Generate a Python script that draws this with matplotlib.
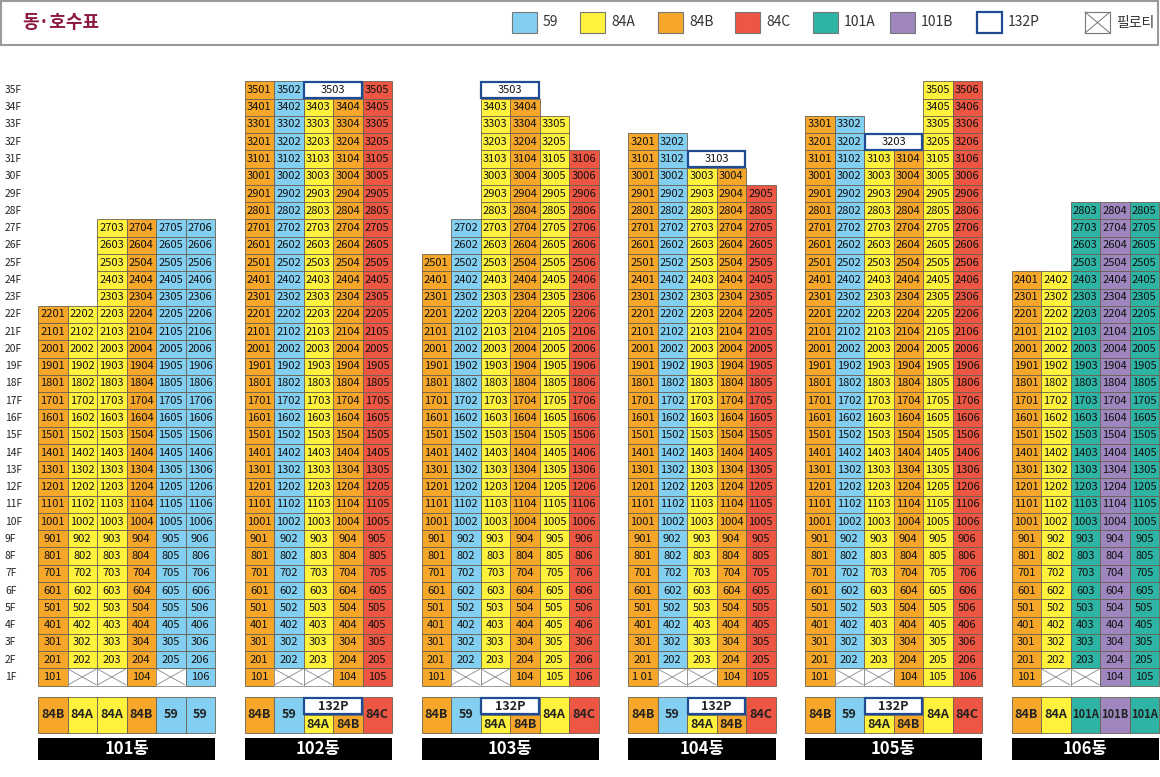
import matplotlib
matplotlib.use("Agg")
import matplotlib.pyplot as plt
from matplotlib.patches import Rectangle
import warnings
warnings.filterwarnings("ignore")

plt.rcParams['font.family'] = ['Liberation Sans Narrow', 'Noto Sans CJK KR', 'DejaVu Sans']

# ---------------- data ----------------
buildings = ['101동', '102동', '103동', '104동', '105동', '106동']
b_types = [
    ['84B', '84A', '84A', '84B', '59', '59'],
    ['84B', '59', '84A', '84B', '84C'],
    ['84B', '59', '84A', '84B', '84A', '84C'],
    ['84B', '59', '84A', '84B', '84C'],
    ['84B', '59', '84A', '84B', '84A', '84C'],
    ['84B', '84A', '101A', '101B', '101A'],
]
b_top = [
    [22, 22, 27, 27, 27, 27],
    [35, 35, 34, 34, 35],
    [25, 27, 34, 34, 33, 31],
    [32, 32, 30, 30, 29],
    [33, 33, 31, 31, 35, 35],
    [24, 24, 28, 28, 28],
]
b_piloti = [[2, 3, 5], [2, 3], [2, 3], [2, 3], [2, 3], [2, 3]]
# penthouse (132P): building index -> (floor, first column); spans 2 columns
penthouse = {1: (35, 3), 2: (35, 3), 3: (31, 3), 4: (32, 3)}
b_offset = [0, 7, 13, 20, 26, 33]
floors = list(range(1, 36))
special_labels = {(3, 1, 1): '1 01'}

legend_types = ['59', '84A', '84B', '84C', '101A', '101B', '132P', '필로티']
colors = {'59': '#82CFF2', '84A': '#FFF23C', '84B': '#F6A72A', '84C': '#EC5642',
          '101A': '#2DB4A5', '101B': '#9F86BF'}
ph_color = '#1F4A94'
edge = '#6a6152'

# ---------------- figure ----------------
W, H = 1160, 777
fig = plt.figure(figsize=(W / 100, H / 100), dpi=100)
ax = fig.add_axes([0, 0, 1, 1])
colw, rowh = 29.5, 17.265
x0px, y0px = 38, 685.6
ax.set_xlim(-x0px / colw, (W - x0px) / colw)
ax.set_ylim((y0px - H) / rowh, y0px / rowh)
ax.axis('off')

cell_fs = 8.0


def type_fs(t):
    return 8.0 if len(t) >= 4 else 9.0


for b, name in enumerate(buildings):
    off = b_offset[b]
    ncol = len(b_types[b])
    ph = penthouse.get(b)
    for c in range(ncol):
        t = b_types[b][c]
        x = off + c
        for f in range(1, b_top[b][c] + 1):
            if f == 1 and (c + 1) in b_piloti[b]:
                ax.add_patch(Rectangle((x, f - 1), 1, 1, fc='white', ec='#8a8a8a', lw=0.6))
                ax.plot([x + 0.03, x + 0.97], [f - 0.95, f - 0.05], color='#8a8a8a', lw=0.6)
                ax.plot([x + 0.03, x + 0.97], [f - 0.05, f - 0.95], color='#8a8a8a', lw=0.6)
                continue
            ax.add_patch(Rectangle((x, f - 1), 1, 1, fc=colors[t], ec=edge, lw=0.6))
            lab = special_labels.get((b, f, c + 1), f"{f}{c + 1:02d}")
            ax.text(x + 0.5, f - 0.5, lab, ha='center', va='center', fontsize=cell_fs, color='#111111')
    if ph:
        pf, pc = ph
        x = off + pc - 1
        ax.add_patch(Rectangle((x + 0.03, pf - 1 + 0.05), 1.94, 0.9, fc='white', ec=ph_color, lw=1.6))
        ax.text(x + 1, pf - 0.5, f"{pf}{pc:02d}", ha='center', va='center', fontsize=cell_fs, color='#111111')

    # type row
    ytop, ybot = (y0px - 697) / rowh, (y0px - 733) / rowh
    for c in range(ncol):
        x = off + c
        t = b_types[b][c]
        if ph and (c + 1) in (ph[1], ph[1] + 1):
            ymid = (ytop + ybot) / 2
            ax.add_patch(Rectangle((x, ybot), 1, ymid - ybot, fc=colors[t], ec=edge, lw=0.6))
            ax.text(x + 0.5, (ybot + ymid) / 2, t, ha='center', va='center', fontsize=type_fs(t),
                    fontweight='bold', color='#222222')
            continue
        ax.add_patch(Rectangle((x, ybot), 1, ytop - ybot, fc=colors[t], ec=edge, lw=0.6))
        ax.text(x + 0.5, (ytop + ybot) / 2, t, ha='center', va='center', fontsize=type_fs(t),
                fontweight='bold', color='#222222')
    if ph:
        x = off + ph[1] - 1
        ymid = (ytop + ybot) / 2
        ax.add_patch(Rectangle((x + 0.03, ymid + 0.05), 1.94, ytop - ymid - 0.1, fc='white', ec=ph_color, lw=1.6))
        ax.text(x + 1, (ymid + ytop) / 2, '132P', ha='center', va='center', fontsize=9,
                fontweight='bold', color='#222222')

    # building name bar
    bt, bb = (y0px - 738) / rowh, (y0px - 760) / rowh
    ax.add_patch(Rectangle((off, bb), ncol, bt - bb, fc='black', ec='black', lw=0))
    ax.text(off + ncol / 2, (bt + bb) / 2, name, ha='center', va='center', fontsize=12,
            fontweight='bold', color='white')

# floor labels
for f in floors:
    ax.text(-33 / colw, f - 0.5, f"{f}F", ha='left', va='center', fontsize=7.4, color='#222222')

# ---------------- header ----------------
hax = fig.add_axes([0, 1 - 47 / H, 1, 47 / H])
hax.set_xlim(0, W)
hax.set_ylim(47, 0)
hax.axis('off')
hax.add_patch(Rectangle((1, 1), W - 3, 44, fc='white', ec='#9a9a9a', lw=1.5))
hax.text(22, 22, '동·호수표', ha='left', va='center', fontsize=13, color='#8B1A3F', fontweight='bold')
leg_x = [512, 580, 658, 735, 813, 890, 977, 1085]
for lx, t in zip(leg_x, legend_types):
    if t == '132P':
        hax.add_patch(Rectangle((lx, 12), 25, 21, fc='white', ec=ph_color, lw=1.6))
    elif t == '필로티':
        hax.add_patch(Rectangle((lx, 12), 25, 21, fc='white', ec='#777777', lw=0.8))
        hax.plot([lx, lx + 25], [12, 33], color='#777777', lw=0.7)
        hax.plot([lx, lx + 25], [33, 12], color='#777777', lw=0.7)
    else:
        hax.add_patch(Rectangle((lx, 12), 25, 21, fc=colors[t], ec='#777777', lw=0.8))
    hax.text(lx + 31, 22.5, t, ha='left', va='center', fontsize=10, color='#333333')

fig.savefig('out.png', dpi=100, facecolor='white')
